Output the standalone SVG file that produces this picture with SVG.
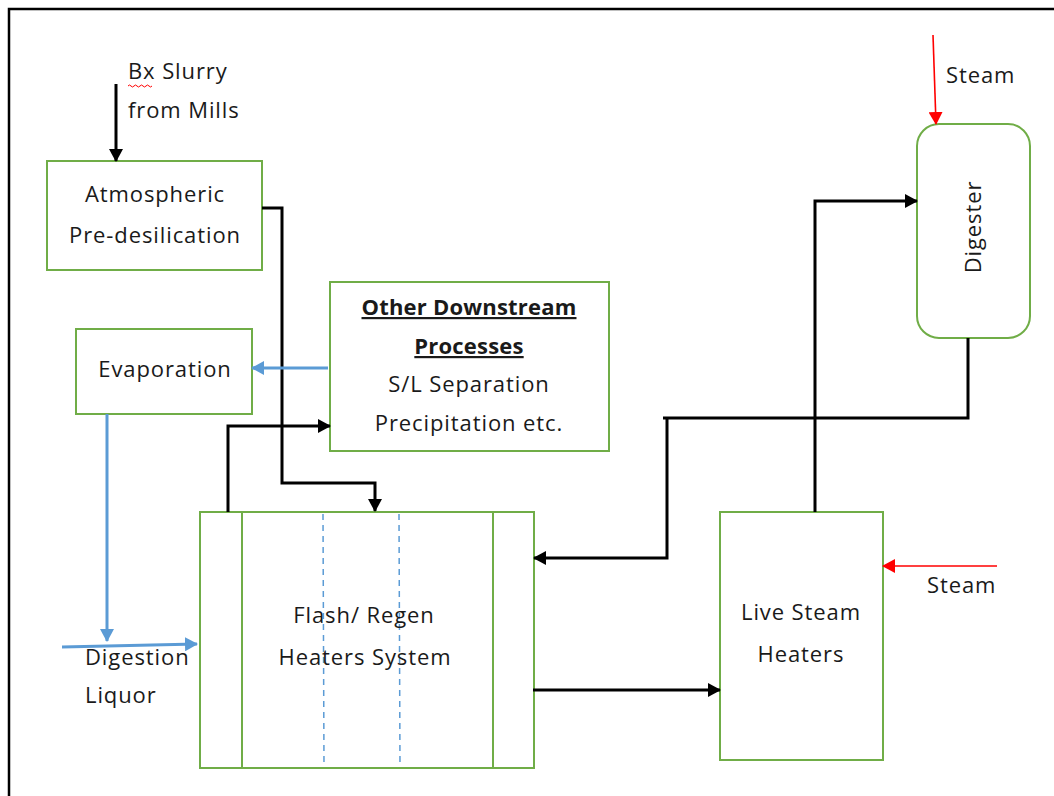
<svg xmlns="http://www.w3.org/2000/svg" width="1054" height="796" viewBox="0 0 1054 796">
<style>
.box{fill:#fff;stroke:#70AD47;stroke-width:2}
.t{font-family:"Open Sans","Liberation Sans",sans-serif;font-size:22px;fill:#1a1a1a;letter-spacing:0.9px}
.c{text-anchor:middle}
.b{font-weight:bold;text-decoration:underline;letter-spacing:0.2px}
.k{fill:none;stroke:#000;stroke-width:3}
.bl{fill:none;stroke:#5B9BD5;stroke-width:3}
.rd{fill:none;stroke:#FF0000;stroke-width:1.6}
.dash{fill:none;stroke:#5B9BD5;stroke-width:1.5;stroke-dasharray:6,5}
</style>
<defs>
<marker id="ak" markerUnits="userSpaceOnUse" markerWidth="14" markerHeight="14" refX="12" refY="7" orient="auto"><path d="M0,0 L13,7 L0,14 Z" fill="#000"/></marker>
<marker id="ab" markerUnits="userSpaceOnUse" markerWidth="14" markerHeight="14" refX="12" refY="7" orient="auto"><path d="M0,0 L13,7 L0,14 Z" fill="#5B9BD5"/></marker>
<marker id="ar" markerUnits="userSpaceOnUse" markerWidth="14" markerHeight="14" refX="12" refY="7" orient="auto"><path d="M0,0 L13,7 L0,14 Z" fill="#FF0000"/></marker>
</defs>
<rect width="1054" height="796" fill="#fff"/>
<path d="M9,796 V9 H1054" fill="none" stroke="#000" stroke-width="2.5"/>

<g id="atmospheric">
<rect class="box" x="47" y="161" width="215" height="109"/>
<text class="t c" x="155" y="202">Atmospheric</text>
<text class="t c" x="155" y="243">Pre-desilication</text>
</g>
<g id="evaporation">
<rect class="box" x="76" y="329" width="176" height="85"/>
<text class="t c" x="165" y="377">Evaporation</text>
</g>
<g id="downstream">
<rect class="box" x="330" y="282" width="279" height="169"/>
<text class="t c b" x="469" y="315">Other Downstream</text>
<text class="t c b" x="469" y="354">Processes</text>
<text class="t c" x="469" y="392">S/L Separation</text>
<text class="t c" x="469" y="431">Precipitation etc.</text>
</g>
<g id="flash">
<rect class="box" x="200" y="512" width="334" height="256"/>
<line x1="242" y1="512" x2="242" y2="768" stroke="#70AD47" stroke-width="2"/>
<line x1="493" y1="512" x2="493" y2="768" stroke="#70AD47" stroke-width="2"/>
<line class="dash" x1="323" y1="514" x2="324" y2="767"/>
<line class="dash" x1="399" y1="514" x2="400" y2="767"/>
<text class="t c" x="364" y="623">Flash/ Regen</text>
<text class="t c" x="365" y="665">Heaters System</text>
</g>
<g id="livesteam">
<rect class="box" x="720" y="512" width="163" height="248"/>
<text class="t c" x="801" y="620">Live Steam</text>
<text class="t c" x="801" y="662">Heaters</text>
</g>
<g id="digester">
<rect class="box" x="917" y="124" width="113" height="214" rx="22" ry="22"/>
<text class="t c" transform="translate(981,227) rotate(-90)">Digester</text>
</g>
<g id="labels">
<text class="t" x="128" y="79">Bx Slurry</text>
<path d="M128,86 q1.5,-2 3,0 t3,0 t3,0 t3,0 t3,0 t3,0 t3,0 t3,0" fill="none" stroke="#FF0000" stroke-width="1"/>
<text class="t" x="128" y="118">from Mills</text>
<text class="t" x="946" y="83">Steam</text>
<text class="t" x="927" y="593">Steam</text>
<text class="t" x="85" y="665">Digestion</text>
<text class="t" x="85" y="703">Liquor</text>
</g>
<g id="connectors">
<path class="k" d="M116,84 V161" marker-end="url(#ak)"/>
<path class="k" d="M262,208 H282 V483 H375 V511" marker-end="url(#ak)"/>
<path class="k" d="M228,512 V426 H330" marker-end="url(#ak)"/>
<path class="k" d="M968,338 V418 H663 M667,418 V558 H534" marker-end="url(#ak)"/>
<path class="k" d="M533,690 H720" marker-end="url(#ak)"/>
<path class="k" d="M815,512 V201 H917" marker-end="url(#ak)"/>
<path class="bl" d="M328,368 H252" marker-end="url(#ab)"/>
<path class="bl" d="M107,414 V641" marker-end="url(#ab)"/>
<path class="bl" d="M62,647 L197,644" marker-end="url(#ab)"/>
<path class="rd" d="M933,35 L936,124" marker-end="url(#ar)"/>
<path class="rd" d="M997,566 H883" marker-end="url(#ar)"/>
</g>
</svg>
